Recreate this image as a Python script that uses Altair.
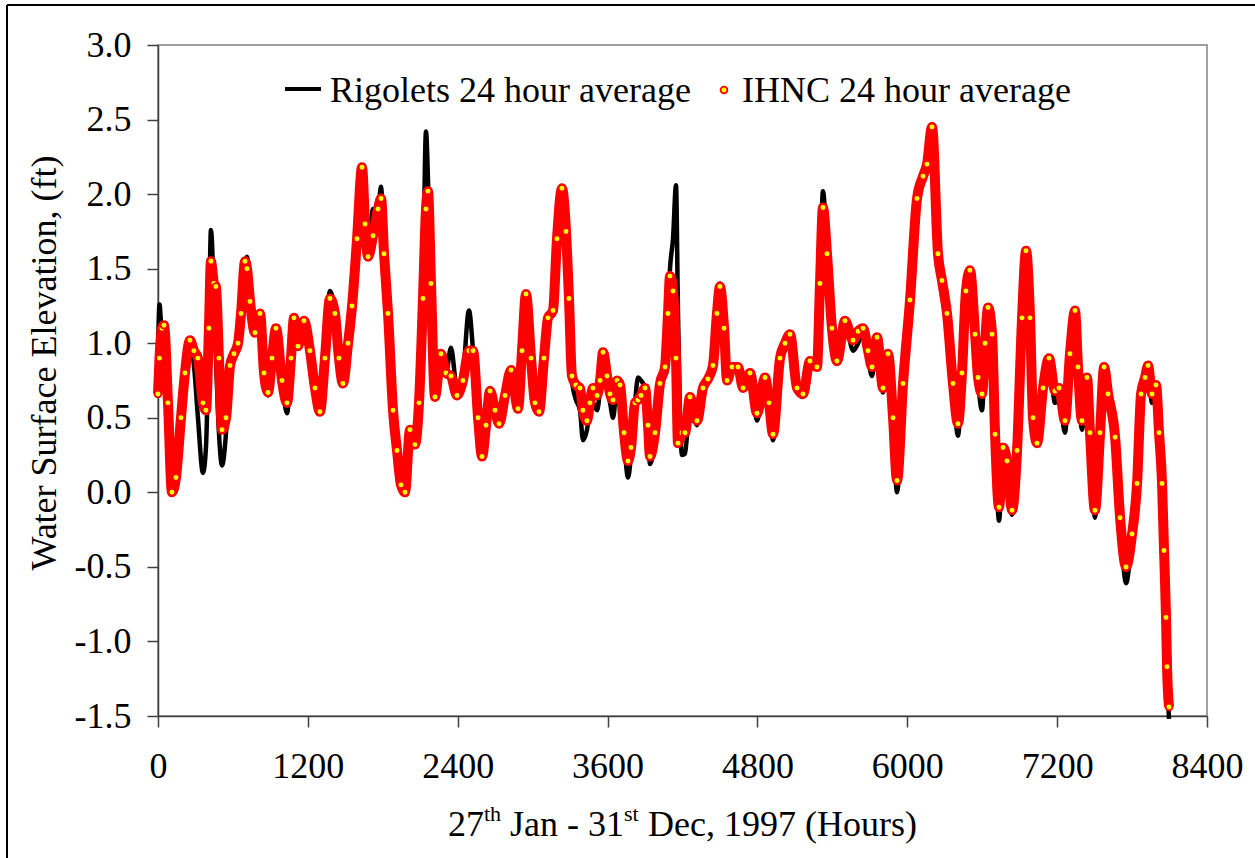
import altair as alt
import pandas as pd

# ---- data ----
hours = [0, 12, 32, 48, 80, 112, 144, 184, 216, 256, 288, 320, 360, 384, 408, 424, 448, 464, 488, 513,
         545, 577, 609, 641, 665, 697, 713, 737, 777, 817, 849, 881, 913, 945, 993, 1033, 1065, 1089, 1121, 1169,
         1217, 1257, 1297, 1337, 1377, 1417, 1449, 1481, 1522, 1554, 1594, 1634, 1658, 1682, 1722, 1762, 1786, 1810, 1842, 1882,
         1914, 1946, 1978, 2018, 2058, 2090, 2122, 2146, 2162, 2186, 2218, 2266, 2306, 2346, 2394, 2442, 2490, 2523, 2563, 2595,
         2627, 2659, 2699, 2731, 2779, 2827, 2883, 2915, 2947, 2987, 3019, 3051, 3091, 3123, 3163, 3195, 3235, 3267, 3291, 3315,
         3347, 3379, 3403, 3435, 3459, 3483, 3516, 3540, 3564, 3596, 3620, 3644, 3676, 3700, 3732, 3764, 3788, 3820, 3844, 3868,
         3900, 3924, 3940, 3980, 4020, 4060, 4084, 4100, 4124, 4148, 4164, 4196, 4220, 4260, 4316, 4364, 4404, 4444, 4476, 4500,
         4533, 4557, 4597, 4645, 4685, 4741, 4797, 4861, 4893, 4925, 4981, 5021, 5061, 5117, 5165, 5221, 5277, 5301, 5325, 5357,
         5397, 5437, 5501, 5566, 5606, 5646, 5686, 5718, 5758, 5806, 5846, 5886, 5918, 5966, 6022, 6078, 6126, 6158, 6198, 6246,
         6278, 6318, 6366, 6406, 6438, 6470, 6502, 6543, 6567, 6599, 6623, 6647, 6679, 6703, 6735, 6767, 6799, 6839, 6879, 6919,
         6951, 6983, 7007, 7039, 7087, 7135, 7183, 7215, 7263, 7303, 7343, 7367, 7399, 7439, 7463, 7503, 7544, 7576, 7608, 7664,
         7704, 7752, 7800, 7840, 7872, 7904, 7928, 7960, 7992, 8016, 8040, 8056, 8072, 8080, 8096]

ihnc = [0.66, 0.90, 1.10, 1.12, 0.60, 0.00, 0.10, 0.50, 0.80, 1.02, 0.95, 0.90, 0.60, 0.55, 1.10, 1.55, 1.40, 1.38, 0.90, 0.42,
        0.50, 0.85, 0.93, 1.00, 1.20, 1.55, 1.50, 1.28, 1.07, 1.20, 0.80, 0.67, 0.90, 1.10, 0.75, 0.60, 0.90, 1.17, 0.98, 1.15,
        0.95, 0.70, 0.54, 0.90, 1.30, 1.20, 0.90, 0.73, 1.00, 1.25, 1.70, 2.18, 1.80, 1.58, 1.72, 1.90, 1.97, 1.60, 1.20, 0.55,
        0.28, 0.05, 0.00, 0.42, 0.32, 0.60, 1.30, 1.90, 2.02, 1.40, 0.64, 0.93, 0.80, 0.78, 0.65, 0.75, 0.95, 0.95, 0.50, 0.24,
        0.45, 0.68, 0.55, 0.46, 0.65, 0.82, 0.56, 0.95, 1.33, 0.90, 0.60, 0.54, 0.90, 1.17, 1.22, 1.70, 2.04, 1.75, 1.30, 0.78,
        0.72, 0.70, 0.55, 0.48, 0.60, 0.70, 0.65, 0.75, 0.94, 0.78, 0.66, 0.62, 0.75, 0.72, 0.40, 0.21, 0.30, 0.60, 0.62, 0.65,
        0.70, 0.45, 0.24, 0.40, 0.73, 0.84, 1.20, 1.45, 1.35, 0.90, 0.33, 0.40, 0.40, 0.64, 0.48, 0.70, 0.76, 0.85, 1.20, 1.38,
        1.10, 0.75, 0.84, 0.84, 0.70, 0.80, 0.53, 0.77, 0.60, 0.39, 0.90, 1.00, 1.06, 0.70, 0.66, 0.88, 0.84, 1.40, 1.91, 1.60,
        1.10, 0.88, 1.15, 1.02, 1.08, 1.10, 0.95, 0.84, 1.04, 0.70, 0.93, 0.50, 0.08, 0.73, 1.29, 1.97, 2.12, 2.20, 2.45, 1.60,
        1.42, 1.20, 0.73, 0.46, 0.80, 1.35, 1.49, 1.06, 0.77, 0.66, 1.00, 1.24, 1.06, 0.39, -0.10, 0.30, 0.21, -0.12, 0.28, 1.17,
        1.62, 1.17, 0.50, 0.33, 0.70, 0.90, 0.68, 0.70, 0.48, 0.93, 1.22, 0.84, 0.48, 0.77, 0.40, -0.12, 0.40, 0.84, 0.66, 0.37,
        -0.17, -0.50, -0.28, 0.06, 0.66, 0.77, 0.85, 0.66, 0.72, 0.40, 0.06, -0.39, -0.84, -1.17, -1.44]

rigolets = [0.95, 1.26, 1.05, 1.10, 0.60, 0.02, 0.10, 0.50, 0.80, 1.00, 0.85, 0.50, 0.13, 0.30, 1.10, 1.76, 1.30, 0.90, 0.40, 0.18,
            0.40, 0.85, 0.95, 1.00, 1.20, 1.50, 1.58, 1.40, 1.10, 1.18, 0.80, 0.65, 0.90, 1.10, 0.75, 0.53, 0.85, 1.15, 0.98, 1.13,
            0.95, 0.70, 0.54, 0.90, 1.35, 1.20, 0.90, 0.72, 1.00, 1.25, 1.70, 2.15, 1.80, 1.60, 1.90, 1.90, 2.05, 1.60, 1.20, 0.50,
            0.25, 0.05, 0.00, 0.42, 0.32, 0.60, 1.40, 2.42, 2.10, 1.30, 0.64, 0.93, 0.80, 0.97, 0.70, 0.80, 1.22, 0.95, 0.50, 0.24,
            0.45, 0.70, 0.55, 0.46, 0.65, 0.82, 0.56, 0.95, 1.33, 0.90, 0.60, 0.54, 0.90, 1.17, 1.22, 1.70, 2.05, 1.75, 1.30, 0.75,
            0.62, 0.55, 0.35, 0.42, 0.55, 0.60, 0.55, 0.70, 0.94, 0.70, 0.60, 0.50, 0.72, 0.70, 0.35, 0.10, 0.25, 0.60, 0.77, 0.75,
            0.70, 0.40, 0.19, 0.35, 0.70, 0.84, 1.20, 1.50, 1.70, 2.06, 1.20, 0.25, 0.26, 0.60, 0.45, 0.70, 0.76, 0.85, 1.20, 1.40,
            1.10, 0.75, 0.80, 0.84, 0.70, 0.80, 0.48, 0.77, 0.60, 0.35, 0.90, 0.95, 1.05, 0.68, 0.64, 0.86, 0.84, 1.40, 2.02, 1.60,
            1.10, 0.86, 1.15, 0.95, 1.00, 1.10, 0.90, 0.78, 1.04, 0.67, 0.93, 0.45, 0.00, 0.73, 1.29, 1.97, 2.12, 2.20, 2.45, 1.60,
            1.42, 1.20, 0.73, 0.38, 0.80, 1.35, 1.49, 1.06, 0.75, 0.55, 1.00, 1.24, 1.06, 0.39, -0.19, 0.30, 0.21, -0.15, 0.28, 1.17,
            1.62, 1.17, 0.50, 0.33, 0.70, 0.90, 0.60, 0.65, 0.40, 0.93, 1.22, 0.84, 0.42, 0.77, 0.40, -0.17, 0.40, 0.84, 0.66, 0.37,
            -0.17, -0.61, -0.28, 0.06, 0.66, 0.77, 0.85, 0.60, 0.72, 0.40, 0.06, -0.39, -0.90, -1.20, -1.52]

x_ticks = [0, 1200, 2400, 3600, 4800, 6000, 7200, 8400]
y_ticks = [-1.5, -1.0, -0.5, 0.0, 0.5, 1.0, 1.5, 2.0, 2.5, 3.0]
legend_labels = ["Rigolets 24 hour average", "IHNC 24 hour average"]
x_title_parts = ["27", "th", "Jan - 31", "st", "Dec, 1997 (Hours)"]
y_title = "Water Surface Elevation, (ft)"

FONT = "Liberation Serif"
FS = 36
W, H = 1049, 671

df = pd.DataFrame({"hour": hours, "ihnc": ihnc, "rigolets": rigolets})

x_enc = alt.X("hour:Q",
              scale=alt.Scale(domain=[0, 8400], nice=False, zero=False),
              axis=alt.Axis(values=x_ticks, format="d", title=None, labelPadding=22,
                            labelFlush=False, labelOverlap=False))

def y_enc(field):
    return alt.Y(field + ":Q",
                 scale=alt.Scale(domain=[-1.5, 3.0], nice=False, zero=False),
                 axis=alt.Axis(values=y_ticks, title=None, labelPadding=16,
                               labelExpr="(datum.value < 0 ? '-' : '') + format(abs(datum.value), '.1f')",
                               labelFlush=False, labelOverlap=False))

base = alt.Chart(df)
black_line = base.mark_line(color="#000000", strokeWidth=4.5, interpolate="monotone").encode(
    x=x_enc, y=y_enc("rigolets"))
red_band = base.mark_line(color="#ff0000", strokeWidth=10, interpolate="monotone").encode(
    x=x_enc, y=y_enc("ihnc"))
red_pts = base.mark_point(shape="circle", filled=True, fill="#ffff00", stroke="#ff0000",
                          strokeWidth=1.8, size=46, opacity=1).encode(x=x_enc, y=y_enc("ihnc"))

def one(label):
    return alt.Chart(pd.DataFrame({"label": [label]}))

# legend
leg_line = one("l").mark_rule(color="#000000", strokeWidth=4).encode(
    x=alt.value(127), x2=alt.value(163), y=alt.value(44))
leg_txt1 = one(legend_labels[0]).mark_text(font=FONT, fontSize=FS, align="left", baseline="alphabetic",
                                           color="#000000").encode(x=alt.value(172), y=alt.value(57), text="label:N")
leg_pt = one("p").mark_point(shape="circle", filled=True, fill="#ffff00", stroke="#ff0000",
                             strokeWidth=1.8, size=46, opacity=1).encode(x=alt.value(566), y=alt.value(45))
leg_txt2 = one(legend_labels[1]).mark_text(font=FONT, fontSize=FS, align="left", baseline="alphabetic",
                                           color="#000000").encode(x=alt.value(584), y=alt.value(57), text="label:N")

# x-axis title with superscripts
xt_pos = [290, 326, 352, 466, 490]
xt_size = [FS, 22, FS, 22, FS]
xt_base = [791, 776, 791, 776, 791]
x_title_layers = [
    one(t).mark_text(font=FONT, fontSize=s, align="left", baseline="alphabetic", color="#000000").encode(
        x=alt.value(px), y=alt.value(py), text="label:N")
    for t, px, s, py in zip(x_title_parts, xt_pos, xt_size, xt_base)
]

# y-axis title
y_title_layer = one(y_title).mark_text(font=FONT, fontSize=FS, angle=270, align="center", baseline="middle",
                                       color="#000000").encode(x=alt.value(-113), y=alt.value(318), text="label:N")

# figure frame (left and top edges)
frame_left = one("f").mark_rule(color="#000000", strokeWidth=2).encode(
    x=alt.value(-151), y=alt.value(-40), y2=alt.value(813))
frame_top = one("f").mark_rule(color="#000000", strokeWidth=2).encode(
    x=alt.value(-151), x2=alt.value(1097), y=alt.value(-40))

chart = alt.layer(
    black_line, red_band, red_pts,
    leg_line, leg_txt1, leg_pt, leg_txt2,
    *x_title_layers, y_title_layer, frame_left, frame_top
).resolve_scale(y="shared").properties(
    width=W, height=H,
    autosize=alt.AutoSizeParams(type="none"),
    padding={"left": 158, "top": 45, "right": 48, "bottom": 142},
    background="#ffffff",
).configure_axis(
    grid=False,
    domainColor="#404040", domainWidth=1.5,
    tickColor="#404040", tickWidth=1.5, tickSize=11,
    labelFont=FONT, labelFontSize=FS, labelColor="#000000",
).configure_view(stroke="#808080", strokeWidth=1.5)

chart.save("out.html", embed_options={"renderer": "svg", "actions": False})
